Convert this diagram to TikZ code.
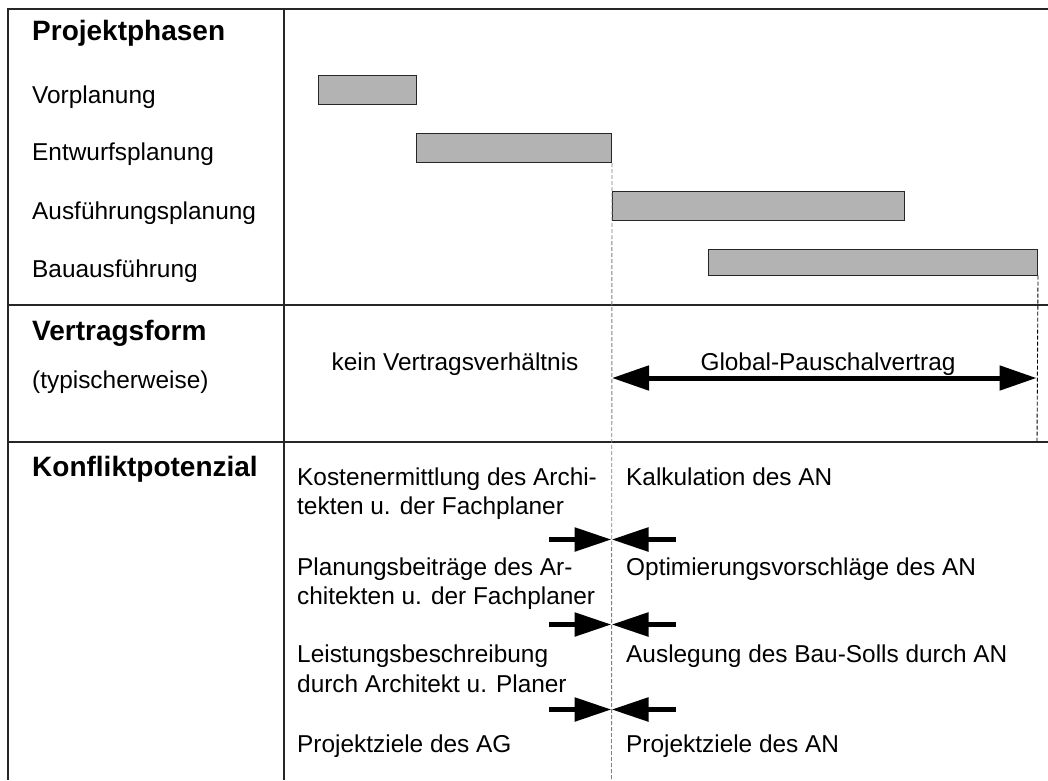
\documentclass[tikz,border=0pt]{standalone}
\usepackage{fontspec}
\setmainfont{Liberation Sans}
\usetikzlibrary{arrows.meta}
\definecolor{bargray}{RGB}{179,179,179}
\begin{document}
\begin{tikzpicture}[x=1pt,y=-1pt,
  frame/.style={line width=1.8pt,black!85},
  guide/.style={line width=0.9pt,dashed,dash pattern=on 4pt off 2pt},
  bar/.style={draw=black!85,line width=1pt,fill=bargray,inner sep=0,anchor=north west},
  txt/.style={anchor=base west,inner sep=0,font=\fontsize{24.4}{28}\selectfont},
  ctxt/.style={anchor=base,inner sep=0,font=\fontsize{24.4}{28}\selectfont},
  head/.style={anchor=base west,inner sep=0,font=\fontsize{28}{32}\selectfont\bfseries},
  fat/.style={line width=5.5pt,-{Triangle[length=37pt,width=23pt]}},
  fatboth/.style={line width=5pt,{Triangle[length=37pt,width=24pt]}-{Triangle[length=37pt,width=24pt]}}]
\useasboundingbox (0,0) rectangle (1048,780);

% table frame
\draw[frame] (1048,9) -- (8,9) -- (8,780);
\draw[frame] (284,9) -- (284,780);
\draw[frame] (8,305) -- (1048,305);
\draw[frame] (8,442) -- (1048,442);

% row headings
\node[head] (h1) at (32,40) {Projektphasen};
\node[txt] (p1) at (32,103) {Vorplanung};
\node[txt] (p2) at (32,160) {Entwurfsplanung};
\node[txt] (p3) at (32,219) {Ausführungsplanung};
\node[txt] (p4) at (32,277) {Bauausführung};
\node[head] (h2) at (32,340) {Vertragsform};
\node[txt] (h2b) at (32,388) {(typischerweise)};
\node[head] (h3) at (32,476) {Konfliktpotenzial};

% phase bars
\node[bar,minimum width=98pt,minimum height=29pt] (b1) at (318,75) {};
\node[bar,minimum width=195pt,minimum height=29pt] (b2) at (416,133) {};
\node[bar,minimum width=292pt,minimum height=29pt] (b3) at (611.5,190.5) {};
\node[bar,minimum width=329pt,minimum height=25.5pt] (b4) at (708,249) {};

% guide lines
\coordinate (g1) at (611.5,780);
\coordinate (g2) at (1037,442);
\draw[guide,gray] (b2.south east) -- (g1);
\draw[guide,black] (b4.south east) -- (g2);

% contract form
\node[ctxt] (kv) at (455,370) {kein Vertragsverhältnis};
\node[ctxt] (gp) at (828,370) {Global-Pauschalvertrag};
\coordinate (ga) at (612,378);
\coordinate (gb) at (1036.5,378);
\draw[fatboth] (ga) -- (gb);

% conflict potential
\node[txt] (l1) at (297,485) {Kostenermittlung des Archi-};
\node[txt] (l1b) at (297,514) {tekten u. der Fachplaner};
\node[txt] (l2) at (297,575) {Planungsbeiträge des Ar-};
\node[txt] (l2b) at (297,604) {chitekten u. der Fachplaner};
\node[txt] (l3) at (297,662) {Leistungsbeschreibung};
\node[txt] (l3b) at (297,692) {durch Architekt u. Planer};
\node[txt] (l4) at (297,752) {Projektziele des AG};

\node[txt] (r1) at (626,485) {Kalkulation des AN};
\node[txt] (r2) at (626,575) {Optimierungsvorschläge des AN};
\node[txt] (r3) at (626,662) {Auslegung des Bau-Solls durch AN};
\node[txt] (r4) at (626,752) {Projektziele des AN};

\foreach \y/\n in {539.5/a,624.5/b,709.5/c}{
  \coordinate (L\n) at (549,\y);
  \coordinate (M\n) at (611.5,\y);
  \coordinate (R\n) at (676,\y);
  \draw[fat] (L\n) -- (M\n);
  \draw[fat] (R\n) -- (M\n);
}
\end{tikzpicture}
\end{document}
